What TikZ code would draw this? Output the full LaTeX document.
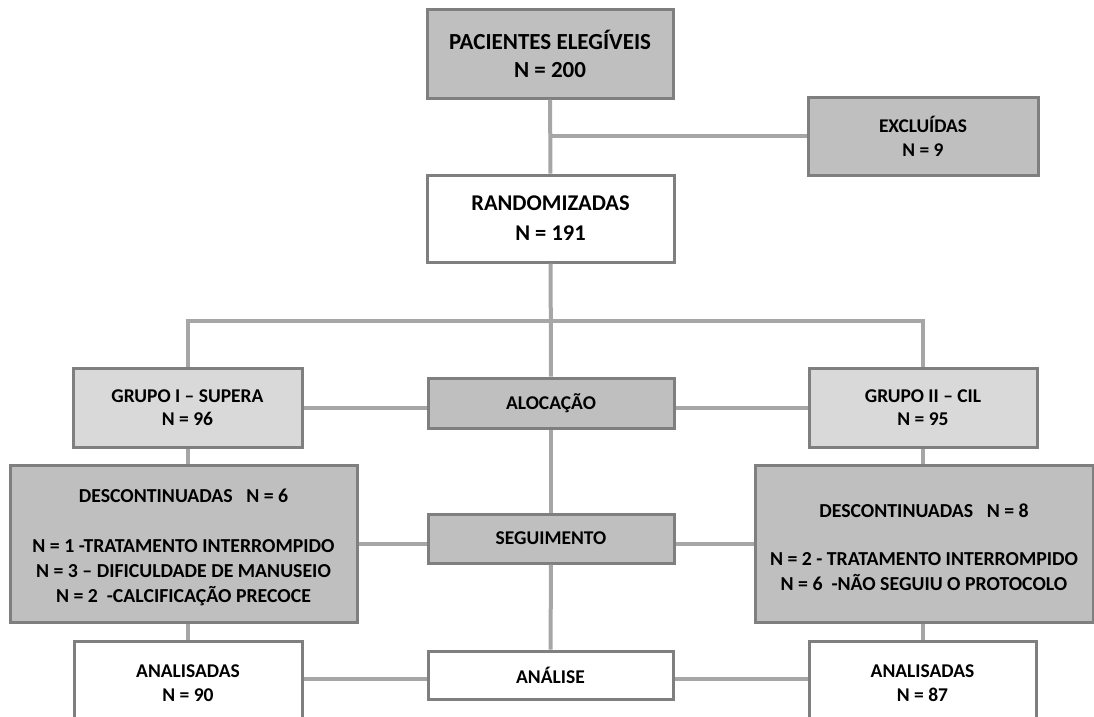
\documentclass[tikz,border=0pt]{standalone}
\usepackage{fontspec}
\setmainfont{Carlito}
\definecolor{darkfill}{HTML}{BFBFBF}
\definecolor{lightfill}{HTML}{D9D9D9}
\definecolor{boxline}{HTML}{7F7F7F}
\definecolor{conline}{HTML}{A6A6A6}
\tikzset{
  box/.style={draw=boxline, line width=3pt, inner sep=0pt, align=center,
    font=\bfseries\fontsize{19.5}{25}\selectfont},
  darkbox/.style={box, fill=darkfill},
  lightbox/.style={box, fill=lightfill},
  whitebox/.style={box, fill=white},
  txt/.style={inner sep=0pt, align=center, font=\bfseries\fontsize{19.5}{24}\selectfont},
  dtxt/.style={inner sep=0pt, align=center, font=\bfseries\fontsize{19.8}{25}\selectfont},
  con/.style={draw=conline, line width=4pt}
}
\begin{document}
\begin{tikzpicture}[x=1pt,y=-1pt]
\useasboundingbox (0,0) rectangle (1094,716);
\clip (0,0) rectangle (1094,716);
% nodes
\node[darkbox, minimum width=246pt, minimum height=89pt,
  font=\bfseries\fontsize{23}{28}\selectfont] (pac) at (550,53.5)
  {PACIENTES ELEGÍVEIS\\N = 200};
\node[darkbox, minimum width=230pt, minimum height=78pt,
  font=\bfseries\fontsize{19.4}{24}\selectfont] (excl) at (923,136)
  {EXCLUÍDAS\\N = 9};
\node[whitebox, minimum width=247pt, minimum height=87pt,
  font=\bfseries\fontsize{22.5}{30}\selectfont] (rand) at (550.5,218.5)
  {RANDOMIZADAS\\N = 191};
\node[lightbox, minimum width=229pt, minimum height=79pt,
  font=\bfseries\fontsize{19.5}{23}\selectfont] (g1) at (187.5,407.5)
  {GRUPO I – SUPERA\\N = 96};
\node[lightbox, minimum width=228pt, minimum height=79pt,
  font=\bfseries\fontsize{19.5}{23}\selectfont] (g2) at (923,407.5)
  {GRUPO II – CIL\\N = 95};
\node[darkbox, minimum width=246pt, minimum height=50pt] (aloc) at (551,403) {ALOCAÇÃO};
\node[darkbox, minimum width=246pt, minimum height=49pt] (seg) at (551,538.5) {SEGUIMENTO};
\node[darkbox, minimum width=347pt, minimum height=157pt] (d1) at (183.5,543.5) {};
\node[dtxt] (d1t) at (183.5,547.5)
  {DESCONTINUADAS\hspace{9pt} N = 6\\[25pt]N = 1 -TRATAMENTO INTERROMPIDO\\N = 3 – DIFICULDADE DE MANUSEIO\\N = 2~ -CALCIFICAÇÃO PRECOCE};
\node[darkbox, minimum width=338pt, minimum height=157pt] (d2) at (924,543.5) {};
\node[dtxt] (d2t) at (924,547)
  {DESCONTINUADAS\hspace{9pt} N = 8\\[23pt]N = 2 - TRATAMENTO INTERROMPIDO\\N = 6~ -NÃO SEGUIU O PROTOCOLO};
\node[whitebox, minimum width=228pt, minimum height=94pt] (a1) at (188,688) {};
\node[txt] (a1t) at (188,683) {ANALISADAS\\N = 90};
\node[whitebox, minimum width=227pt, minimum height=94pt] (a2) at (922.5,688) {};
\node[txt] (a2t) at (922.5,683) {ANALISADAS\\N = 87};
\node[whitebox, minimum width=245pt, minimum height=48pt] (an) at (550.5,675) {ANÁLISE};
% connectors
\coordinate (br) at (550,321);
\draw[con] (pac) -- (rand);
\draw[con] (excl.west) -- (excl.west -| pac.south);
\draw[con] (rand) -- (aloc);
\draw[con] (g1.north) |- (br) -| (g2.north);
\draw[con] (g1.east) -- (g1.east -| aloc.west);
\draw[con] (g2.west) -- (g2.west -| aloc.east);
\draw[con] (aloc) -- (seg);
\draw[con] (g1.south) -- (g1.south |- d1.north);
\draw[con] (g2.south) -- (g2.south |- d2.north);
\draw[con] (d1.east) -- (d1.east -| seg.west);
\draw[con] (d2.west) -- (d2.west -| seg.east);
\draw[con] (seg) -- (an);
\draw[con] (a1.north) -- (a1.north |- d1.south);
\draw[con] (a2.north) -- (a2.north |- d2.south);
\draw[con] ([yshift=-4pt]an.west) -- ([yshift=-4pt]an.west -| a1.east);
\draw[con] ([yshift=-4pt]an.east) -- ([yshift=-4pt]an.east -| a2.west);
\end{tikzpicture}
\end{document}
